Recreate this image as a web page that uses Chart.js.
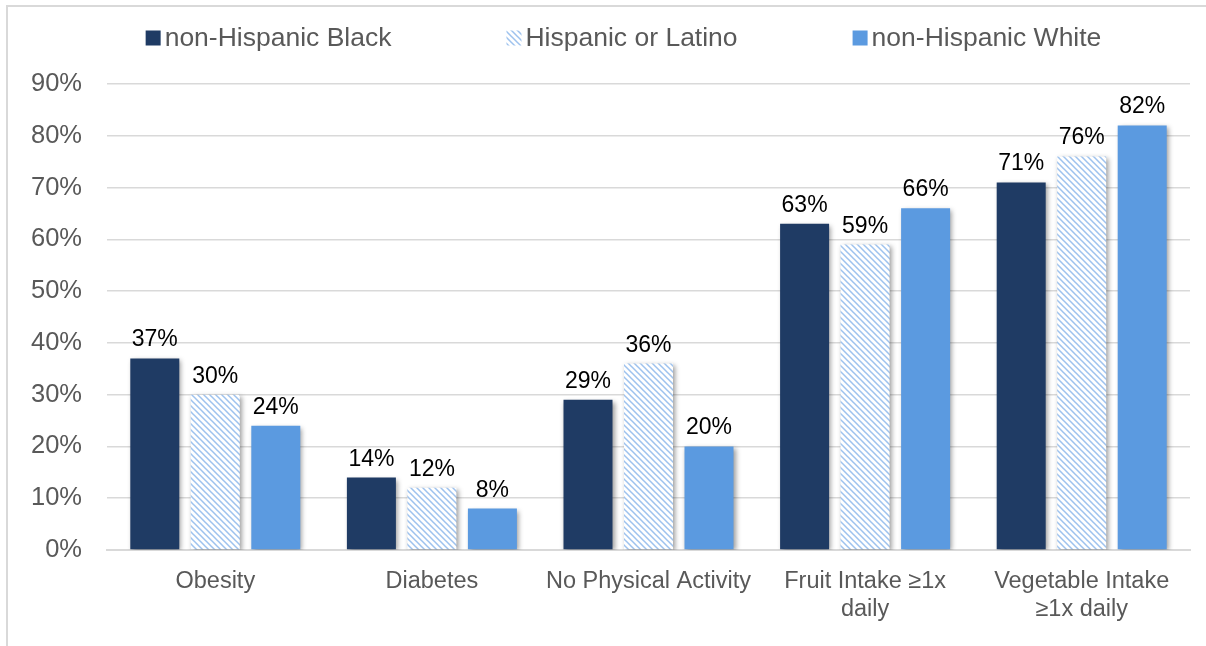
<!DOCTYPE html>
<html>
<head>
<meta charset="utf-8">
<title>Health indicators by race and ethnicity</title>
<script src="https://cdn.jsdelivr.net/npm/chart.js@4.4.0/dist/chart.umd.min.js"></script>
<style>
  html, body { margin: 0; padding: 0; background: #fff; width: 1206px; height: 646px; overflow: hidden; }
  .frame { position: absolute; left: 6px; top: 5px; width: 1300px; height: 700px;
           border-left: 2px solid #d9d9d9; border-top: 2px solid #d9d9d9; }
  .chartBox { position: absolute; left: 8px; top: 7px; width: 1231px; height: 660px; }
</style>
</head>
<body>
<div class="frame"></div>
<div class="chartBox"><canvas id="myChart"></canvas></div>
<script>
// Categories and values (percent of adults)
const categories = ['Obesity', 'Diabetes', 'No Physical Activity', ['Fruit Intake \u22651x', 'daily'], ['Vegetable Intake', '\u22651x daily']];
const seriesNames = ['non-Hispanic Black', 'Hispanic or Latino', 'non-Hispanic White'];
const blackValues = [37, 14, 29, 63, 71];
const hispanicValues = [30, 12, 36, 59, 76];
const whiteValues = [24, 8, 20, 66, 82];
const yTicks = [0, 10, 20, 30, 40, 50, 60, 70, 80, 90];

const textGrey = '#595959';

let ctx = document.getElementById('myChart').getContext('2d');

// Light blue diagonal hatch on white for the Hispanic series
function makeHatch(context) {
    const tile = document.createElement('canvas');
    tile.width = 6;
    tile.height = 6;
    const g = tile.getContext('2d');
    g.fillStyle = '#ffffff';
    g.fillRect(0, 0, 6, 6);
    g.strokeStyle = '#9ec2ee';
    g.lineWidth = 1.5;
    g.beginPath();
    g.moveTo(-1, -1); g.lineTo(7, 7);
    g.moveTo(-1, 5); g.lineTo(1, 7);
    g.moveTo(5, -1); g.lineTo(7, 1);
    g.stroke();
    return context.createPattern(tile, 'repeat');
}
const hatch = makeHatch(ctx);

// Soft drop shadow under the bars
const barShadow = {
    id: 'barShadow',
    beforeDatasetDraw(chart) {
        const c = chart.ctx;
        c.save();
        c.shadowColor = 'rgba(0, 0, 0, 0.4)';
        c.shadowBlur = 5;
        c.shadowOffsetX = 2;
        c.shadowOffsetY = 2;
    },
    afterDatasetDraw(chart) {
        chart.ctx.restore();
    }
};

// Percent labels above each bar
const valueLabels = {
    id: 'valueLabels',
    afterDatasetsDraw(chart, args, opts) {
        const c = chart.ctx;
        c.save();
        c.font = opts.font;
        c.fillStyle = opts.color;
        c.textAlign = 'center';
        c.textBaseline = 'alphabetic';
        chart.data.datasets.forEach((ds, i) => {
            chart.getDatasetMeta(i).data.forEach((bar, j) => {
                c.fillText(ds.data[j] + '%', bar.x, bar.y - opts.offset);
            });
        });
        c.restore();
    }
};

// Legend row across the top
const topLegend = {
    id: 'topLegend',
    afterDraw(chart, args, opts) {
        const c = chart.ctx;
        c.save();
        c.font = opts.font;
        const items = chart.data.datasets.map(ds => ({
            ds: ds,
            w: opts.box + opts.boxGap + c.measureText(ds.label).width
        }));
        const total = items.reduce((s, it) => s + it.w, 0) + opts.itemGap * (items.length - 1);
        let x = chart.width / 2 - total / 2;
        items.forEach(it => {
            c.fillStyle = it.ds.backgroundColor;
            c.fillRect(x, opts.y - opts.box / 2, opts.box, opts.box);
            c.fillStyle = opts.color;
            c.textAlign = 'left';
            c.textBaseline = 'middle';
            c.fillText(it.ds.label, x + opts.box + opts.boxGap, opts.y + 1);
            x += it.w + opts.itemGap;
        });
        c.restore();
    }
};

let myChart = new Chart(ctx, {
    type: 'bar',
    data: {
        labels: categories,
        datasets: [
            { label: seriesNames[0], data: blackValues, backgroundColor: '#1f3b64' },
            { label: seriesNames[1], data: hispanicValues, backgroundColor: hatch },
            { label: seriesNames[2], data: whiteValues, backgroundColor: '#5b9ae0' }
        ]
    },
    options: {
        responsive: true,
        maintainAspectRatio: false,
        animation: false,
        layout: {
            padding: { top: 77, right: 49, bottom: 0, left: 0 }
        },
        datasets: {
            bar: {
                categoryPercentage: 0.838,
                barPercentage: 0.81
            }
        },
        scales: {
            x: {
                grid: { display: false },
                border: { color: '#d9d9d9', width: 2 },
                ticks: {
                    color: textGrey,
                    padding: 10.5,
                    maxRotation: 0,
                    autoSkip: false,
                    font: { family: '"Liberation Sans", Arial, sans-serif', size: 23.5, lineHeight: 1.15 }
                },
                afterFit(scale) { scale.height = 117; }
            },
            y: {
                min: 0,
                max: 90,
                grid: { color: '#d9d9d9', lineWidth: 1.5, drawTicks: false },
                border: { display: false },
                ticks: {
                    color: textGrey,
                    padding: 25,
                    font: { family: '"Liberation Sans", Arial, sans-serif', size: 25.5 },
                    callback: (value) => value + '%'
                },
                afterBuildTicks(scale) {
                    scale.ticks = yTicks.map(v => ({ value: v }));
                },
                afterFit(scale) { scale.width = 99; }
            }
        },
        plugins: {
            legend: { display: false },
            tooltip: { enabled: false },
            valueLabels: {
                font: '23px "Liberation Sans", Arial, sans-serif',
                color: '#000000',
                offset: 12
            },
            topLegend: {
                font: '26.5px "Liberation Sans", Arial, sans-serif',
                color: textGrey,
                y: 31,
                box: 15,
                boxGap: 4,
                itemGap: 115
            }
        }
    },
    plugins: [barShadow, valueLabels, topLegend]
});
</script>
</body>
</html>
